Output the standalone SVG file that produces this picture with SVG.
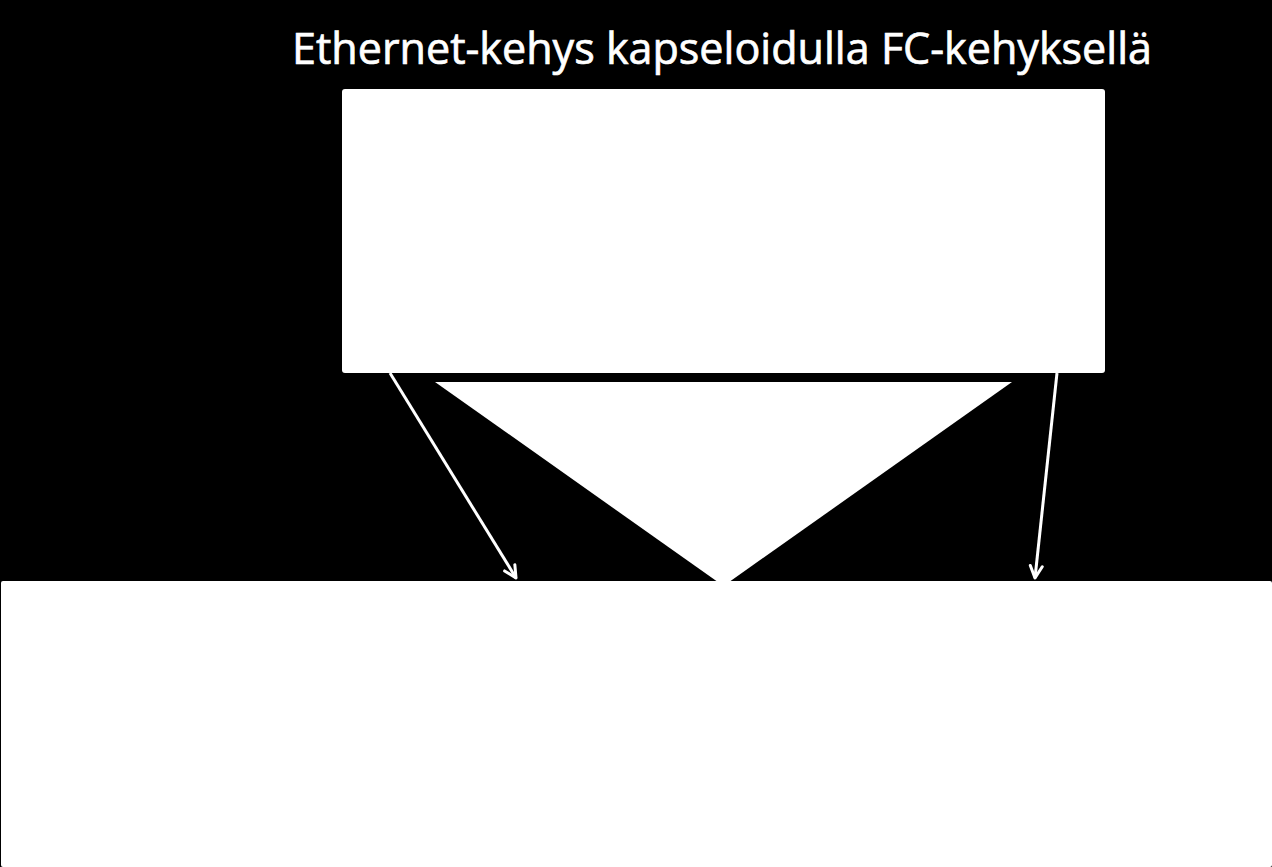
<svg xmlns="http://www.w3.org/2000/svg" width="1272" height="867" viewBox="0 0 1272 867">
<style>
.box{fill:#ffffff;stroke:none}
.title{font-family:"Open Sans","Noto Sans","Liberation Sans",sans-serif;font-size:43px;fill:#ffffff;stroke:#ffffff;stroke-width:0.7}
.conn{stroke:#ffffff;stroke-width:3;fill:none}
</style>
<defs>
<marker id="arr" viewBox="0 0 16 16" refX="14" refY="8" markerWidth="16" markerHeight="16" markerUnits="userSpaceOnUse" orient="auto">
<path d="M2,2 L14,8 L2,14" fill="none" stroke="#ffffff" stroke-width="3" stroke-linecap="round" stroke-linejoin="round"/>
</marker>
</defs>
<rect x="0" y="0" width="1272" height="867" fill="#000000"/>
<text class="title" x="292" y="64" textLength="860" lengthAdjust="spacingAndGlyphs">Ethernet-kehys kapseloidulla FC-kehyksellä</text>
<g id="top-frame">
<rect class="box" x="342" y="89" width="763" height="284" rx="3"/>
</g>
<g id="triangle">
<polygon class="box" points="435,382 1012,382 723.5,586" stroke="#ffffff" stroke-width="2" stroke-linejoin="round"/>
</g>
<g id="connectors">
<line class="conn" x1="390" y1="373" x2="516" y2="578" marker-end="url(#arr)"/>
<line class="conn" x1="1057" y1="373" x2="1035" y2="578" marker-end="url(#arr)"/>
</g>
<g id="bottom-frame">
<rect class="box" x="1" y="581" width="1271" height="286" rx="2"/>
</g>
</svg>
